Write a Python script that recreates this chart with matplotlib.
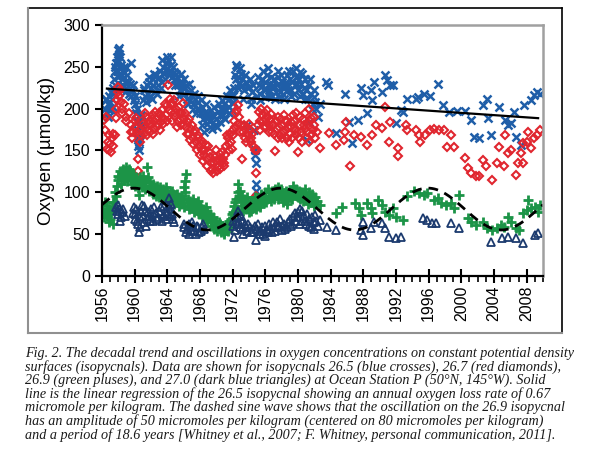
import numpy as np
import matplotlib
matplotlib.use("Agg")
import matplotlib.pyplot as plt
from matplotlib.lines import Line2D
from matplotlib.ticker import MultipleLocator

# isopycnal 26.5 (blue crosses)
blue_years = [1956.4, 1956.5, 1956.6, 1956.7, 1956.8, 1956.9, 1957.0, 1957.1, 1957.2, 1957.3, 1957.4,
              1957.5, 1957.6, 1957.7, 1957.8, 1957.9, 1958.0, 1958.1, 1958.2, 1958.3, 1958.4, 1958.5,
              1958.6, 1958.7, 1958.8, 1958.9, 1959.0, 1959.2, 1959.3, 1959.5, 1959.6, 1959.8, 1959.9,
              1960.0, 1960.2, 1960.3, 1960.35, 1960.4, 1960.45, 1960.5, 1960.55, 1960.6, 1960.7, 1960.8,
              1960.9, 1961.0, 1961.2, 1961.3, 1961.5, 1961.6, 1961.8, 1962.0, 1962.1, 1962.3, 1962.5,
              1962.6, 1962.8, 1963.0, 1963.1, 1963.3, 1963.5, 1963.6, 1963.8, 1964.0, 1964.1, 1964.3,
              1964.4, 1964.6, 1964.8, 1965.0, 1965.1, 1965.3, 1965.5, 1965.6, 1965.8, 1966.0, 1966.2,
              1966.4, 1966.6, 1966.8, 1967.0, 1967.2, 1967.4, 1967.6, 1967.8, 1968.0, 1968.2, 1968.4,
              1968.6, 1968.8, 1969.0, 1969.2, 1969.4, 1969.6, 1969.8, 1970.0, 1970.2, 1970.4, 1970.6,
              1970.8, 1971.0, 1971.2, 1971.4, 1971.6, 1971.8, 1972.0, 1972.2, 1972.4, 1972.5, 1972.6,
              1972.8, 1973.0, 1973.2, 1973.4, 1973.6, 1973.8, 1974.0, 1974.2, 1974.4, 1974.6, 1974.7,
              1974.8, 1974.85, 1974.9, 1975.0, 1975.2, 1975.4, 1975.6, 1975.8, 1976.0, 1976.2, 1976.4,
              1976.6, 1976.8, 1977.0, 1977.2, 1977.4, 1977.6, 1977.8, 1978.0, 1978.2, 1978.4, 1978.6,
              1978.8, 1979.0, 1979.2, 1979.4, 1979.6, 1979.8, 1980.0, 1980.2, 1980.4, 1980.6, 1980.8,
              1981.0, 1981.1, 1981.2, 1981.3, 1981.4, 1981.6, 1981.8, 1982.0, 1982.2, 1982.4,
              1982.7, 1983.4, 1983.7, 1984.6, 1985.8, 1986.2, 1986.6, 1987.3, 1987.7, 1987.9, 1988.5,
              1988.9, 1989.1, 1989.3, 1990.3, 1990.6, 1990.9, 1991.3, 1991.6, 1992.0, 1992.6, 1992.8,
              1993.4, 1994.4, 1994.7, 1995.4, 1996.2, 1997.1, 1997.7, 1998.5, 1999.5, 2000.5, 2001.2,
              2001.6, 2002.2, 2002.6, 2003.2, 2003.3, 2003.6, 2004.6, 2005.4, 2005.7, 2006.1, 2006.5,
              2006.7, 2007.3, 2007.7, 2008.5, 2008.9, 2009.3, 2009.6]
blue_o2 = [200, 210, 195, 205, 215, 198, 208, 220, 212, 202, 218,
           235, 245, 255, 262, 270, 258, 265, 248, 252, 240, 236,
           228, 244, 232, 250, 225, 232, 218, 254, 215, 228, 210,
           205, 195, 185, 175, 165, 155, 150, 160, 170, 185, 192,
           180, 210, 222, 215, 228, 218, 232, 225, 212, 235, 220,
           240, 228, 238, 245, 232, 250, 242, 255, 248, 258, 245,
           252, 238, 244, 235, 242, 228, 232, 222, 230, 218, 225,
           212, 220, 210, 215, 205, 212, 200, 208, 195, 202, 188,
           196, 182, 190, 178, 186, 192, 180, 188, 196, 184, 200,
           192, 205, 198, 210, 202, 215, 208, 225, 235, 250, 238,
           230, 242, 228, 222, 232, 175, 226, 212, 220, 175, 150,
           135, 110, 102, 215, 228, 218, 236, 224, 232, 240, 222,
           230, 215, 225, 212, 228, 238, 220, 232, 218, 226, 240,
           222, 235, 215, 245, 228, 238, 222, 244, 230, 218, 235,
           222, 162, 212, 184, 228, 218, 206, 214, 200, 190,
           205, 232, 228, 171, 218, 184, 159, 186, 225, 216, 195,
           222, 210, 232, 220, 240, 234, 228, 228, 183, 198, 196,
           212, 212, 214, 218, 215, 230, 204, 196, 197, 197, 186,
           166, 165, 204, 212, 189, 168, 202, 186, 180, 183, 196,
           166, 156, 204, 210, 216, 220, 218]
# second cast of the weather-ship years (fills the dense band)
blue_years_2 = [1956.45, 1956.75, 1957.05, 1957.35, 1957.55, 1957.65, 1957.85, 1957.95, 1958.05, 1958.15,
                1958.25, 1958.45, 1958.65, 1958.85, 1959.1, 1959.4, 1959.7, 1960.1, 1960.25, 1960.65,
                1961.1, 1961.4, 1961.7, 1961.9, 1962.2, 1962.4, 1962.7, 1962.9, 1963.2, 1963.4,
                1963.7, 1963.9, 1964.2, 1964.5, 1964.7, 1964.9, 1965.2, 1965.4, 1965.7, 1965.9,
                1966.1, 1966.3, 1966.5, 1966.7, 1966.9, 1967.1, 1967.3, 1967.5, 1967.7, 1967.9,
                1968.1, 1968.3, 1968.5, 1968.7, 1968.9, 1969.1, 1969.3, 1969.5, 1969.7, 1969.9,
                1970.1, 1970.3, 1970.5, 1970.7, 1970.9, 1971.1, 1971.3, 1971.5, 1971.7, 1971.9,
                1972.1, 1972.3, 1972.45, 1972.7, 1972.9, 1973.1, 1973.3, 1973.5, 1973.7, 1973.9,
                1974.1, 1974.3, 1974.5, 1974.75, 1975.1, 1975.3, 1975.5, 1975.7, 1975.9, 1976.1,
                1976.3, 1976.5, 1976.7, 1976.9, 1977.1, 1977.3, 1977.5, 1977.7, 1977.9, 1978.1,
                1978.3, 1978.5, 1978.7, 1978.9, 1979.1, 1979.3, 1979.5, 1979.7, 1979.9, 1980.1,
                1980.3, 1980.5, 1980.7, 1980.9, 1981.5, 1981.7, 1981.9, 1982.1]
blue_o2_2 = [212, 190, 200, 225, 250, 228, 245, 238, 272, 242,
             262, 225, 250, 220, 240, 230, 222, 215, 200, 178,
             225, 208, 238, 215, 228, 242, 218, 235, 225, 258,
             235, 262, 240, 262, 250, 228, 238, 215, 242, 225,
             235, 228, 205, 230, 222, 200, 218, 195, 215, 200,
             210, 180, 172, 205, 195, 185, 198, 176, 202, 188,
             178, 205, 192, 210, 200, 188, 215, 195, 222, 198,
             215, 240, 252, 225, 248, 235, 212, 240, 180, 225,
             235, 205, 228, 145, 238, 210, 226, 245, 214, 224,
             248, 215, 238, 228, 235, 220, 245, 214, 240, 226,
             212, 232, 228, 245, 222, 232, 218, 248, 230, 236,
             215, 242, 225, 212, 235, 200, 222, 208]

# isopycnal 26.7 (red diamonds)
red_years = [1956.3, 1956.5, 1956.7, 1956.8, 1956.9, 1957.0, 1957.1, 1957.2, 1957.4, 1957.6, 1957.7,
             1957.8, 1957.9, 1958.0, 1958.1, 1958.3, 1958.5, 1958.7, 1959.0, 1959.3, 1959.6, 1959.7,
             1959.8, 1960.0, 1960.2, 1960.3, 1960.4, 1960.45, 1960.6, 1960.8, 1961.0, 1961.2, 1961.4,
             1961.6, 1961.8, 1962.0, 1962.2, 1962.4, 1962.6, 1962.8, 1963.0, 1963.2, 1963.4, 1963.6,
             1963.8, 1964.0, 1964.1, 1964.3, 1964.5, 1964.7, 1964.9, 1965.1, 1965.3, 1965.5, 1965.7,
             1965.9, 1966.1, 1966.3, 1966.5, 1966.7, 1966.9, 1967.1, 1967.3, 1967.5, 1967.7, 1967.9,
             1968.1, 1968.3, 1968.5, 1968.7, 1968.9, 1969.1, 1969.3, 1969.5, 1969.6, 1969.8, 1970.0,
             1970.2, 1970.4, 1970.6, 1970.8, 1971.0, 1971.2, 1971.4, 1971.6, 1971.8, 1972.0, 1972.2,
             1972.4, 1972.6, 1972.8, 1973.0, 1973.1, 1973.3, 1973.5, 1973.7, 1973.9, 1974.1, 1974.3,
             1974.5, 1974.8, 1974.85, 1975.0, 1975.2, 1975.4, 1975.6, 1975.8, 1976.0, 1976.2, 1976.4,
             1976.6, 1976.8, 1977.0, 1977.2, 1977.4, 1977.6, 1977.8, 1978.0, 1978.2, 1978.4, 1978.6,
             1978.8, 1979.0, 1979.2, 1979.4, 1979.6, 1979.8, 1980.0, 1980.2, 1980.4, 1980.6, 1980.8,
             1981.0, 1981.2, 1981.4, 1981.6, 1981.8, 1982.0, 1982.3,
             1982.7, 1983.8, 1984.6, 1985.6, 1985.8, 1985.9, 1986.4, 1986.8, 1987.7, 1988.5, 1989.1,
             1989.5, 1990.3, 1990.7, 1991.3, 1991.1, 1992.2, 1992.3, 1993.2, 1993.4, 1994.4, 1994.8,
             1995.0, 1995.6, 1996.2, 1996.6, 1997.3, 1997.9, 1998.7, 1998.3, 1999.1, 2000.5, 2000.8,
             2001.2, 2001.8, 2002.2, 2002.6, 2003.0, 2003.8, 2004.6, 2004.4, 2005.2, 2005.4, 2005.7,
             2006.1, 2006.7, 2006.9, 2007.3, 2007.5, 2007.6, 2008.1, 2008.2, 2008.5, 2008.9, 2009.3,
             2009.6]
red_o2 = [186, 190, 160, 168, 150, 158, 148, 165, 170, 168, 189,
          210, 220, 226, 215, 208, 200, 205, 190, 195, 180, 165,
          172, 185, 189, 172, 140, 125, 175, 168, 182, 178, 190,
          175, 185, 180, 192, 176, 188, 182, 195, 184, 198, 188,
          192, 204, 228, 212, 196, 205, 190, 200, 185, 195, 180,
          207, 188, 178, 184, 170, 176, 165, 172, 160, 168, 155,
          162, 150, 145, 156, 140, 148, 135, 128, 123, 142, 138,
          130, 146, 135, 140, 132, 155, 165, 150, 160, 175, 185,
          195, 204, 190, 180, 140, 172, 165, 178, 168, 175, 160,
          155, 123, 95, 150, 196, 185, 192, 178, 188, 198, 180,
          186, 172, 182, 149, 176, 190, 168, 180, 172, 185, 165,
          178, 170, 184, 192, 175, 168, 148, 180, 172, 188, 176,
          165, 182, 200, 189, 175, 180, 172,
          153, 171, 157, 162, 172, 184, 132, 168, 166, 157, 168,
          180, 177, 202, 184, 160, 153, 143, 180, 174, 174, 168,
          160, 168, 174, 176, 174, 174, 168, 154, 154, 141, 129,
          123, 119, 119, 139, 131, 115, 154, 135, 131, 168, 147,
          150, 121, 135, 147, 135, 159, 160, 172, 153, 165, 168,
          174]
red_years_2 = [1956.4, 1956.6, 1957.3, 1957.75, 1958.2, 1958.4, 1958.9, 1959.5, 1960.1, 1960.7,
               1961.1, 1961.3, 1961.5, 1961.7, 1961.9, 1962.1, 1962.3, 1962.5, 1962.7, 1962.9,
               1963.1, 1963.3, 1963.5, 1963.7, 1963.9, 1964.2, 1964.4, 1964.6, 1964.8, 1965.0,
               1965.2, 1965.4, 1965.6, 1965.8, 1966.0, 1966.2, 1966.4, 1966.6, 1966.8, 1967.0,
               1967.2, 1967.4, 1967.6, 1967.8, 1968.0, 1968.2, 1968.4, 1968.6, 1968.8, 1969.0,
               1969.2, 1969.4, 1969.7, 1969.9, 1970.1, 1970.3, 1970.5, 1970.7, 1970.9, 1971.1,
               1971.3, 1971.5, 1971.7, 1971.9, 1972.1, 1972.3, 1972.5, 1972.7, 1972.9, 1973.4,
               1973.6, 1973.8, 1974.0, 1974.2, 1974.4, 1974.7, 1975.1, 1975.3, 1975.5, 1975.7,
               1975.9, 1976.1, 1976.3, 1976.5, 1976.7, 1976.9, 1977.1, 1977.3, 1977.5, 1977.7,
               1977.9, 1978.1, 1978.3, 1978.5, 1978.7, 1978.9, 1979.1, 1979.3, 1979.5, 1979.7,
               1979.9, 1980.1, 1980.3, 1980.5, 1980.7, 1980.9, 1981.1, 1981.3, 1981.5, 1981.7,
               1981.9, 1982.1]
red_o2_2 = [175, 152, 155, 200, 222, 195, 185, 172, 178, 160,
            170, 195, 168, 182, 172, 188, 170, 196, 178, 190,
            175, 190, 182, 205, 185, 198, 205, 185, 210, 195,
            178, 202, 188, 195, 180, 195, 170, 188, 162, 180,
            158, 175, 150, 165, 145, 158, 138, 150, 132, 155,
            142, 125, 135, 150, 125, 140, 128, 148, 135, 145,
            168, 158, 170, 152, 168, 178, 198, 182, 172, 180,
            160, 170, 182, 165, 170, 150, 180, 175, 200, 185,
            195, 178, 190, 172, 194, 180, 170, 185, 165, 178,
            188, 165, 192, 175, 185, 160, 178, 165, 185, 195,
            172, 165, 190, 160, 180, 195, 172, 160, 185, 170,
            190, 165]

# isopycnal 26.9 (green pluses)
green_years = [1956.1, 1956.3, 1956.5, 1956.6, 1956.8, 1957.0, 1957.2, 1957.4, 1957.5, 1957.7, 1957.9,
               1958.0, 1958.2, 1958.4, 1958.6, 1958.8, 1959.0, 1959.2, 1959.4, 1959.6, 1959.8, 1960.0,
               1960.2, 1960.4, 1960.5, 1960.6, 1960.8, 1961.0, 1961.2, 1961.4, 1961.5, 1961.7, 1961.9,
               1962.1, 1962.3, 1962.5, 1962.7, 1962.9, 1963.1, 1963.3, 1963.5, 1963.7, 1963.9, 1964.1,
               1964.3, 1964.5, 1964.7, 1964.9, 1965.1, 1965.3, 1965.5, 1965.7, 1965.9, 1966.1, 1966.2,
               1966.25, 1966.4, 1966.6, 1966.8, 1967.0, 1967.2, 1967.4, 1967.6, 1967.8, 1968.0, 1968.2,
               1968.4, 1968.6, 1968.8, 1969.0, 1969.2, 1969.4, 1969.6, 1969.8, 1970.0, 1970.2, 1970.4,
               1970.6, 1970.8, 1971.0, 1971.2, 1971.4, 1971.6, 1971.8, 1972.0, 1972.2, 1972.4, 1972.6,
               1972.7, 1972.8, 1973.0, 1973.2, 1973.4, 1973.6, 1973.8, 1974.0, 1974.2, 1974.4, 1974.6,
               1974.8, 1975.0, 1975.2, 1975.4, 1975.6, 1975.8, 1976.0, 1976.2, 1976.4, 1976.6, 1976.8,
               1977.0, 1977.2, 1977.4, 1977.6, 1977.8, 1978.0, 1978.2, 1978.4, 1978.6, 1978.8, 1979.0,
               1979.2, 1979.4, 1979.6, 1979.8, 1980.0, 1980.2, 1980.4, 1980.6, 1980.8, 1981.0, 1981.2,
               1981.4, 1981.6, 1981.8, 1982.0, 1982.3,
               1982.7, 1984.6, 1985.4, 1987.0, 1987.5, 1987.7, 1988.5, 1988.9, 1989.1, 1989.8, 1990.3,
               1990.7, 1991.1, 1991.6, 1992.0, 1992.8, 1993.4, 1994.2, 1994.8, 1995.4, 1995.8, 1996.6,
               1997.1, 1997.5, 1998.1, 1998.7, 1999.1, 1999.7, 2000.8, 2001.2, 2001.8, 2002.6, 2003.2,
               2003.8, 2004.4, 2004.8, 2005.2, 2005.7, 2006.1, 2006.7, 2007.1, 2007.5, 2008.0, 2008.2,
               2008.5, 2009.0, 2009.4, 2009.6]
green_o2 = [80, 75, 85, 72, 78, 68, 82, 62, 88, 95, 115,
            120, 125, 118, 128, 122, 130, 120, 126, 116, 122, 112,
            118, 105, 97, 110, 115, 120, 108, 114, 130, 106, 112,
            104, 110, 102, 108, 100, 106, 98, 104, 96, 102, 94,
            100, 92, 98, 90, 96, 88, 94, 86, 92, 106, 114,
            122, 88, 84, 90, 82, 88, 80, 86, 78, 84, 76,
            80, 72, 78, 68, 74, 66, 70, 62, 66, 58, 62,
            52, 56, 50, 58, 54, 62, 68, 76, 84, 92, 100,
            110, 96, 90, 84, 92, 80, 88, 76, 84, 90, 82,
            88, 84, 90, 86, 94, 88, 96, 92, 100, 94, 102,
            96, 104, 98, 92, 100, 94, 88, 96, 90, 98, 102,
            96, 107, 98, 102, 94, 100, 96, 90, 98, 92, 86,
            94, 88, 92, 86, 90,
            85, 75, 83, 87, 81, 73, 87, 81, 75, 91, 85,
            77, 73, 81, 71, 67, 95, 101, 99, 97, 99, 91,
            93, 87, 85, 87, 81, 97, 69, 65, 61, 65, 57,
            55, 57, 61, 59, 71, 65, 57, 55, 75, 79, 91,
            81, 83, 77, 85]
green_years_2 = [1956.2, 1956.4, 1956.7, 1956.9, 1957.1, 1957.3, 1957.6, 1957.8, 1958.1, 1958.3,
                 1958.5, 1958.7, 1958.9, 1959.1, 1959.3, 1959.5, 1959.7, 1959.9, 1960.1, 1960.3,
                 1960.7, 1960.9, 1961.1, 1961.3, 1961.6, 1961.8, 1962.0, 1962.2, 1962.4, 1962.6,
                 1962.8, 1963.0, 1963.2, 1963.4, 1963.6, 1963.8, 1964.0, 1964.2, 1964.4, 1964.6,
                 1964.8, 1965.0, 1965.2, 1965.4, 1965.6, 1965.8, 1966.0, 1966.15, 1966.5, 1966.7,
                 1966.9, 1967.1, 1967.3, 1967.5, 1967.7, 1967.9, 1968.1, 1968.3, 1968.5, 1968.7,
                 1968.9, 1969.1, 1969.3, 1969.5, 1969.7, 1969.9, 1970.1, 1970.3, 1970.5, 1970.7,
                 1970.9, 1971.1, 1971.3, 1971.5, 1971.7, 1971.9, 1972.1, 1972.3, 1972.5, 1972.9,
                 1973.1, 1973.3, 1973.5, 1973.7, 1973.9, 1974.1, 1974.3, 1974.5, 1974.7, 1974.9,
                 1975.1, 1975.3, 1975.5, 1975.7, 1975.9, 1976.1, 1976.3, 1976.5, 1976.7, 1976.9,
                 1977.1, 1977.3, 1977.5, 1977.7, 1977.9, 1978.1, 1978.3, 1978.5, 1978.7, 1978.9,
                 1979.1, 1979.3, 1979.5, 1979.7, 1979.9, 1980.1, 1980.3, 1980.5, 1980.7, 1980.9,
                 1981.1, 1981.3, 1981.5, 1981.7, 1981.9, 1982.1]
green_o2_2 = [70, 88, 80, 65, 75, 88, 100, 108, 118, 110,
              122, 115, 126, 114, 128, 118, 110, 116, 108, 112,
              118, 106, 112, 104, 118, 102, 108, 98, 106, 96,
              104, 94, 102, 92, 100, 106, 98, 90, 96, 102,
              86, 92, 98, 84, 90, 96, 82, 100, 92, 80,
              86, 92, 76, 84, 90, 74, 80, 70, 76, 82,
              64, 70, 60, 68, 56, 60, 54, 64, 56, 60,
              52, 55, 62, 66, 58, 74, 68, 88, 80, 102,
              96, 78, 86, 94, 82, 90, 78, 86, 94, 80,
              92, 82, 98, 90, 100, 88, 104, 96, 90, 98,
              92, 100, 106, 96, 104, 98, 92, 102, 86, 94,
              98, 92, 100, 104, 96, 102, 92, 100, 94, 104,
              96, 100, 90, 98, 84, 94]

# isopycnal 27.0 (dark blue triangles)
navy_years = [1957.7, 1957.9, 1958.1, 1958.3, 1958.5, 1958.8, 1959.8, 1960.0, 1960.2, 1960.4, 1960.5,
              1960.7, 1960.9, 1961.1, 1961.3, 1961.5, 1961.8, 1962.0, 1962.3, 1962.6, 1962.9, 1963.2,
              1963.5, 1963.8, 1964.0, 1964.2, 1964.4, 1964.6, 1964.8, 1966.0, 1966.3, 1966.6, 1966.9,
              1967.2, 1967.5, 1967.8, 1968.1, 1968.4, 1972.0, 1972.2, 1972.4, 1972.6, 1972.8, 1973.0,
              1973.2, 1973.5, 1973.8, 1974.1, 1974.4, 1974.7, 1974.8, 1975.0, 1975.3, 1975.6, 1975.9,
              1976.2, 1976.5, 1976.8, 1977.1, 1977.4, 1977.7, 1978.0, 1978.3, 1978.6, 1979.0, 1979.3,
              1979.6, 1979.9, 1980.2, 1980.4, 1980.7, 1981.0, 1981.3, 1981.6, 1981.9, 1982.1, 1982.4,
              1982.7, 1983.6, 1984.6, 1987.7, 1987.9, 1987.9, 1988.9, 1989.3, 1990.3, 1990.7, 1991.1,
              1992.0, 1992.6, 1995.3, 1995.8, 1996.4, 1996.9, 1998.7, 1999.7, 2003.6, 2005.0, 2005.7,
              2006.7, 2007.5, 2009.0, 2009.4]
navy_o2 = [82, 74, 80, 70, 76, 72, 75, 68, 80, 62, 52,
           70, 85, 64, 78, 68, 72, 80, 66, 75, 70, 82,
           72, 68, 78, 93, 86, 74, 65, 58, 52, 62, 55,
           60, 50, 58, 54, 62, 60, 47, 70, 78, 64, 72,
           56, 62, 54, 58, 52, 60, 43, 56, 50, 58, 48,
           55, 62, 52, 58, 65, 60, 55, 62, 58, 68, 62,
           75, 70, 80, 66, 72, 62, 68, 58, 65, 73, 60,
           67, 59, 55, 55, 49, 65, 57, 65, 63, 57, 47,
           45, 47, 69, 67, 63, 63, 63, 57, 41, 45, 47,
           45, 39, 49, 51]
navy_years_2 = [1957.8, 1958.0, 1958.2, 1958.6, 1959.9, 1960.1, 1960.3, 1960.6, 1960.8, 1961.0,
                1961.2, 1961.4, 1961.6, 1961.9, 1962.1, 1962.4, 1962.7, 1963.0, 1963.3, 1963.6,
                1963.9, 1964.1, 1964.3, 1964.5, 1964.7, 1966.1, 1966.4, 1966.7, 1967.0, 1967.3,
                1967.6, 1967.9, 1968.2, 1968.5, 1972.1, 1972.3, 1972.5, 1972.7, 1972.9, 1973.1,
                1973.3, 1973.6, 1973.9, 1974.2, 1974.5, 1975.1, 1975.4, 1975.7, 1976.0, 1976.3,
                1976.6, 1976.9, 1977.2, 1977.5, 1977.8, 1978.1, 1978.4, 1978.8, 1979.1, 1979.4,
                1979.7, 1980.0, 1980.3, 1980.5, 1980.8, 1981.1, 1981.4, 1981.7, 1982.0, 1982.2]
navy_o2_2 = [78, 85, 66, 80, 82, 74, 66, 58, 78, 72,
             84, 60, 76, 66, 72, 82, 68, 78, 66, 84,
             74, 84, 72, 80, 68, 62, 56, 50, 64, 54,
             60, 52, 58, 56, 66, 55, 62, 72, 58, 66,
             50, 58, 62, 52, 56, 62, 54, 50, 60, 52,
             56, 64, 54, 58, 68, 60, 56, 64, 60, 72,
             66, 76, 62, 78, 66, 74, 60, 70, 56, 66]

# stated fits
trend_start, trend_end = 1956.6, 2009.4
trend_at_start = 224.0
trend_slope = -0.67
sine_center, sine_amp, sine_period, sine_peak = 80.0, 25.0, 18.0, 1959.9

caption_lines = [
    "Fig. 2. The decadal trend and oscillations in oxygen concentrations on constant potential density",
    "surfaces (isopycnals). Data are shown for isopycnals 26.5 (blue crosses), 26.7 (red diamonds),",
    "26.9 (green pluses), and 27.0 (dark blue triangles) at Ocean Station P (50\u00b0N, 145\u00b0W). Solid",
    "line is the linear regression of the 26.5 isopycnal showing an annual oxygen loss rate of 0.67",
    "micromole per kilogram. The dashed sine wave shows that the oscillation on the 26.9 isopycnal",
    "has an amplitude of 50 micromoles per kilogram (centered on 80 micromoles per kilogram)",
    "and a period of 18.6 years [Whitney et al., 2007; F. Whitney, personal communication, 2011].",
]

plt.rcParams['font.family'] = ['Liberation Sans', 'DejaVu Sans']

fig = plt.figure(figsize=(6, 4.5), dpi=100)
ax = fig.add_axes([0.17, 0.3867, 0.735, 0.5578])

ax.plot(blue_years + blue_years_2, blue_o2 + blue_o2_2, linestyle='none', marker='x',
        ms=5.5, mew=1.8, color='#1f5ea8')
ax.plot(red_years + red_years_2, red_o2 + red_o2_2, linestyle='none', marker='D',
        ms=4.0, mew=1.5, mfc='none', color='#e0262f')
ax.plot(green_years + green_years_2, green_o2 + green_o2_2, linestyle='none', marker='+',
        ms=6.5, mew=2.0, color='#1c9447')
ax.plot(navy_years + navy_years_2, navy_o2 + navy_o2_2, linestyle='none', marker='^',
        ms=5.5, mew=1.3, mfc='none', color='#1b3a6e')

tx = np.array([trend_start, trend_end])
ax.plot(tx, trend_at_start + trend_slope * (tx - trend_start), color='black', lw=1.6)

sx = np.linspace(1956.0, 2010.0, 400)
sy = sine_center + sine_amp * np.cos(2 * np.pi * (sx - sine_peak) / sine_period)
ax.plot(sx, sy, color='black', lw=2.0, dashes=(3.5, 2.5))

ax.set_xlim(1956, 2010)
ax.set_ylim(0, 300)
ax.xaxis.set_major_locator(MultipleLocator(4))
ax.xaxis.set_minor_locator(MultipleLocator(1))
ax.yaxis.set_major_locator(MultipleLocator(50))
ax.tick_params(axis='x', which='major', direction='inout', length=10, width=1.5,
               labelsize=11.5, labelrotation=90, pad=2)
ax.tick_params(axis='x', which='minor', direction='out', length=4, width=1.2)
ax.tick_params(axis='y', which='major', direction='out', length=5, width=1.5, labelsize=11.5)
ax.set_ylabel('Oxygen (\u00b5mol/kg)', fontsize=13.5, labelpad=6)

for side in ['left', 'bottom']:
    ax.spines[side].set_linewidth(1.6)
for side in ['top', 'right']:
    ax.spines[side].set_color('#a0a0a0')
    ax.spines[side].set_linewidth(1.8)

# outer frame around the chart
x0, x1 = 28 / 600, 562 / 600
y0, y1 = 1 - 333 / 450, 1 - 8 / 450
fig.add_artist(Line2D([x0, x1], [y1, y1], color='black', lw=1.2, transform=fig.transFigure))
fig.add_artist(Line2D([x1, x1], [y0, y1], color='black', lw=1.2, transform=fig.transFigure))
fig.add_artist(Line2D([x0, x0], [y0, y1], color='#909090', lw=1.5, transform=fig.transFigure))
fig.add_artist(Line2D([x0, x1], [y0, y0], color='#909090', lw=1.5, transform=fig.transFigure))

for i, line in enumerate(caption_lines):
    fig.text(25 / 600, 1 - (353 + 13.7 * i) / 450, line, ha='left', va='center',
             fontsize=10.2, style='italic', family=['Liberation Serif', 'DejaVu Serif'], color='#1a1a1a')

fig.savefig('out.png', dpi=100)
